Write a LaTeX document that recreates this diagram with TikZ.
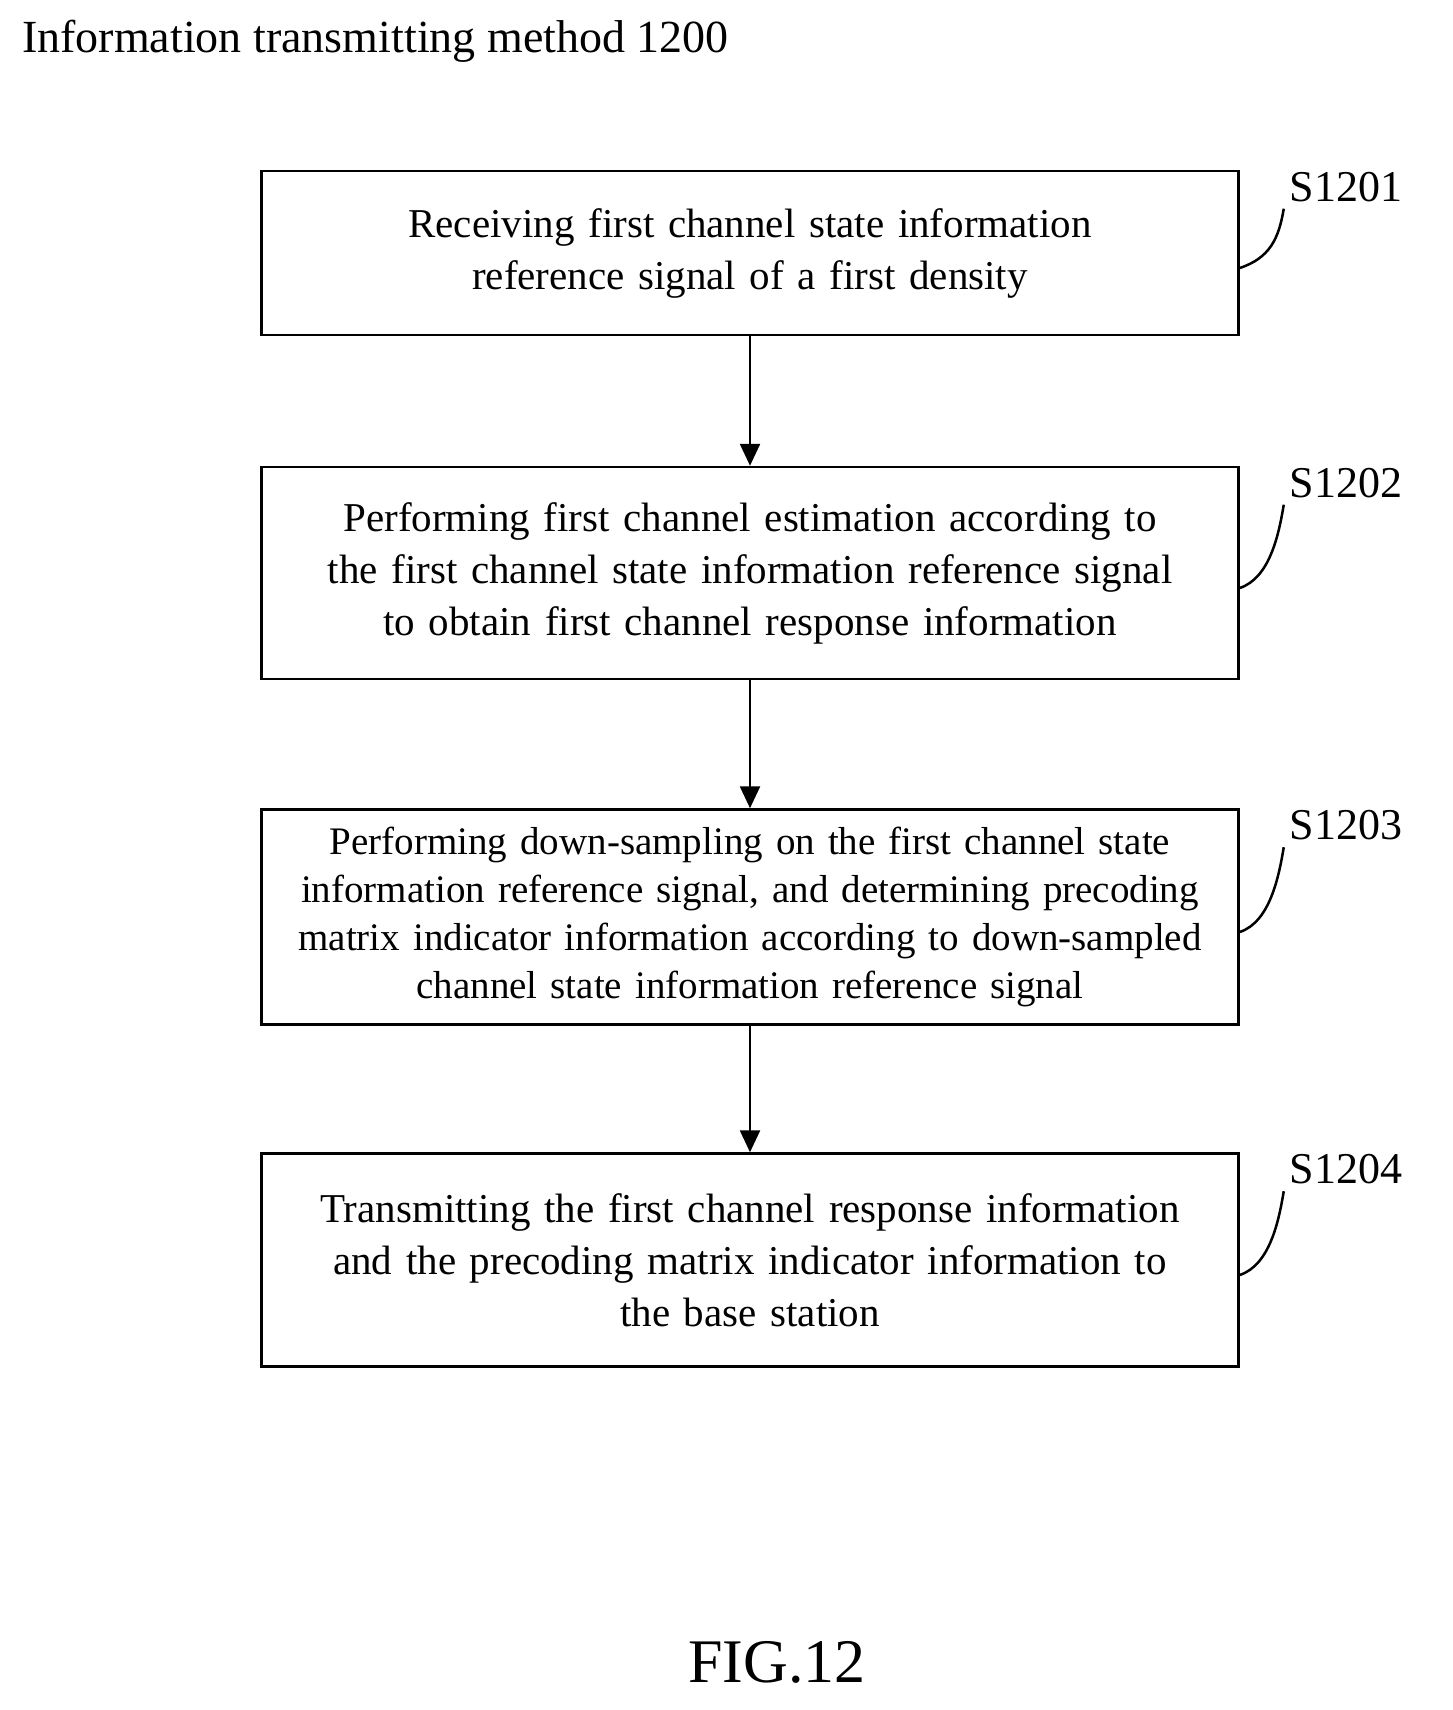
\documentclass[tikz,border=0pt]{standalone}
\usepackage{fontspec}
\setmainfont{Liberation Serif}
\usetikzlibrary{arrows.meta,positioning}
\tikzset{
    stepbox/.style={draw,line width=2.5pt,minimum width=977pt,text width=960pt,align=center,
        inner sep=0pt,font=\fontsize{41}{52}\selectfont},
    flow/.style={-{Triangle[length=22pt,width=20pt]},line width=2.5pt},
    tag/.style={font=\fontsize{44}{50}\selectfont,anchor=south west,inner sep=0pt},
}
\begin{document}
\begin{tikzpicture}[x=1pt,y=-1pt]
        \useasboundingbox[fill=white] (0,0) rectangle (1453,1710);
        \node [anchor=north west,inner sep=0pt,font=\fontsize{46}{52}\selectfont] (title) at (22,20) {Information transmitting method 1200};

        \node [stepbox,minimum height=164pt] (s1) at (750,253) {Receiving first channel state information\\reference signal of a first density};
        \node [stepbox,minimum height=212pt] (s2) at (750,573) {Performing first channel estimation according to\\the first channel state information reference signal\\to obtain first channel response information};
        \node [stepbox,minimum height=215pt,font=\fontsize{39}{48}\selectfont,text width=975pt] (s3) at (750,917) {Performing down-sampling on the first channel state\\information reference signal, and determining precoding\\matrix indicator information according to down-sampled\\channel state information reference signal};
        \node [stepbox,minimum height=213pt] (s4) at (750,1260) {Transmitting the first channel response information\\and the precoding matrix indicator information to\\the base station};

        \draw [flow] (s1) -- (s2);
        \draw [flow] (s2) -- (s3);
        \draw [flow] (s3) -- (s4);

        % step labels
        \foreach \n/\t in {1/S1201,2/S1202,3/S1203,4/S1204} {
            \coordinate (k\n) at ([yshift=-15pt]s\n.east);
            \node [tag] (lab\n) at ([xshift=50pt,yshift=-32pt]s\n.north east) {\t};
            \draw [line width=2.5pt] (s\n.east |- k\n) .. controls +(30,-10) and +(-5,30) .. ([xshift=-6pt,yshift=-22pt]lab\n.west);
        }

        \node [font=\fontsize{62}{70}\selectfont,inner sep=0pt] (fig) at (777,1662) {FIG.12};
    \end{tikzpicture}
\end{document}
